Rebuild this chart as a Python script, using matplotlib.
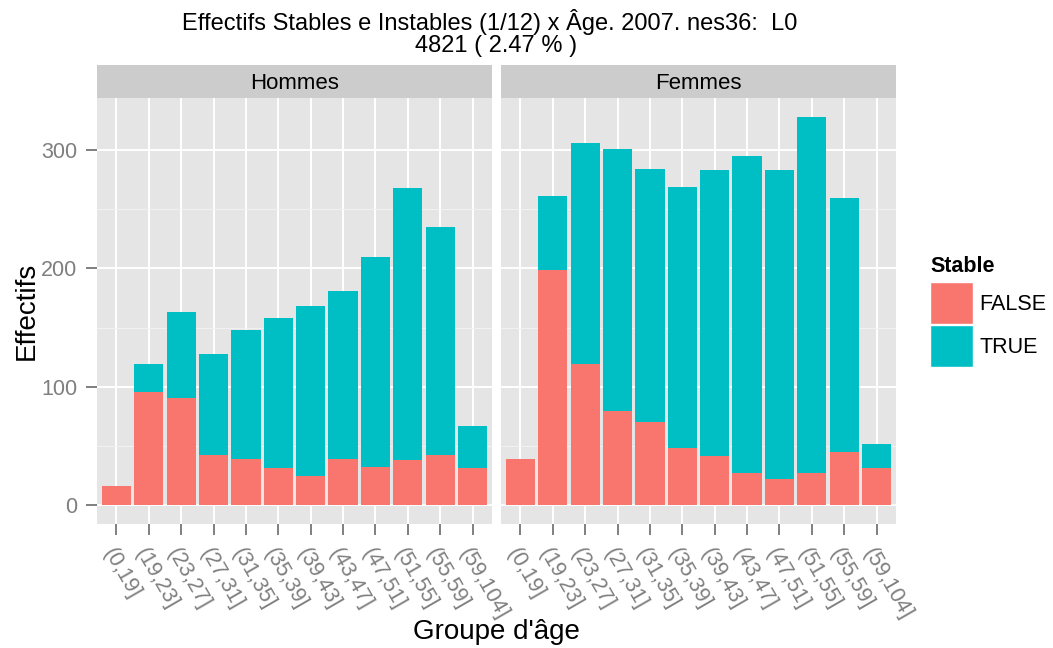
import matplotlib

matplotlib.use("Agg")
import matplotlib.pyplot as plt
from matplotlib.patches import Rectangle
import numpy as np

plt.rcParams["font.family"] = ["Liberation Sans", "DejaVu Sans"]

# age groups and counts per sex, split by stability
groups = ["(0,19]", "(19,23]", "(23,27]", "(27,31]", "(31,35]", "(35,39]",
          "(39,43]", "(43,47]", "(47,51]", "(51,55]", "(55,59]", "(59,104]"]
panels = ["Hommes", "Femmes"]
hommes_false = [16, 95, 90, 42, 39, 31, 24, 39, 32, 38, 42, 31]
hommes_true = [0, 24, 73, 86, 109, 127, 144, 142, 178, 230, 193, 36]
femmes_false = [39, 199, 119, 79, 70, 48, 41, 27, 22, 27, 45, 31]
femmes_true = [0, 62, 187, 222, 214, 221, 242, 268, 261, 301, 215, 20]
y_ticks = [0, 100, 200, 300]
legend_levels = ["FALSE", "TRUE"]

title = "Effectifs Stables e Instables (1/12) x \u00c2ge. 2007. nes36:  L0  \n4821 ( 2.47 % )"

C_FALSE = "#F8766D"
C_TRUE = "#00BFC4"
PANEL_BG = "#E5E5E5"
STRIP_BG = "#CCCCCC"
TICK_COL = "#7F7F7F"

W, H = 1053, 648
fig = plt.figure(figsize=(W / 100, H / 100), dpi=100)


def px_box(x0, y0, x1, y1):
    """Figure-fraction rect from pixel edges (top-left origin)."""
    return [x0 / W, 1 - y1 / H, (x1 - x0) / W, (y1 - y0) / H]


data = {
    "Hommes": (np.array(hommes_false), np.array(hommes_true)),
    "Femmes": (np.array(femmes_false), np.array(femmes_true)),
}
ymax = max((f + t).max() for f, t in data.values())
pad = 0.05 * ymax
x = np.arange(1, len(groups) + 1)

panel_x = {"Hommes": (97, 492), "Femmes": (501, 896)}
for i, name in enumerate(panels):
    x0, x1 = panel_x[name]
    ax = fig.add_axes(px_box(x0, 98, x1, 524))
    ax.set_facecolor(PANEL_BG)
    for s in ax.spines.values():
        s.set_visible(False)
    f, t = data[name]
    ax.bar(x, f, width=0.9, color=C_FALSE, zorder=3, linewidth=0)
    ax.bar(x, t, width=0.9, bottom=f, color=C_TRUE, zorder=3, linewidth=0)
    ax.set_xlim(0.4, len(groups) + 0.6)
    ax.set_ylim(-pad, ymax + pad)
    ax.set_yticks(y_ticks)
    ax.set_yticks([50, 150, 250], minor=True)
    ax.set_xticks(x)
    ax.grid(which="major", color="white", lw=1.4, zorder=1)
    ax.grid(which="minor", axis="y", color="#F2F2F2", lw=0.7, zorder=0)
    ax.tick_params(which="minor", length=0)
    ax.tick_params(axis="both", which="major", color=TICK_COL, width=1.4,
                   length=8, labelcolor=TICK_COL, labelsize=15.5)
    ax.tick_params(axis="y", pad=6)
    ax.set_xticklabels(groups, rotation=-60, ha="left", va="top",
                       rotation_mode="anchor")
    ax.tick_params(axis="x", pad=7)
    if i == 0:
        ax.set_ylabel("Effectifs", fontsize=20, labelpad=1)
    else:
        ax.set_yticklabels([])
        ax.tick_params(axis="y", length=0)

    # facet strip
    sx = fig.add_axes(px_box(x0, 65, x1, 98))
    sx.set_facecolor(STRIP_BG)
    sx.set_xticks([])
    sx.set_yticks([])
    for s in sx.spines.values():
        s.set_visible(False)
    sx.text(0.5, 0.45, name, ha="center", va="center", fontsize=16,
            transform=sx.transAxes)

fig.text(496 / W, 1 - 632 / H, "Groupe d'\u00e2ge", ha="center", va="center",
         fontsize=20)
fig.text(496 / W, 1 - 33 / H, title, ha="center", va="center", fontsize=17,
         linespacing=0.95)

# legend
lg = fig.add_axes(px_box(920, 245, 1053, 380))
lg.set_xlim(920, 1053)
lg.set_ylim(380, 245)
lg.axis("off")
lg.text(930, 266, "Stable", fontsize=15.5, fontweight="bold", va="center",
        ha="left")
for k, (lab, col) in enumerate(zip(legend_levels, [C_FALSE, C_TRUE])):
    top = 282 + k * 43
    lg.add_patch(Rectangle((930, top), 43, 42, facecolor=col,
                           edgecolor="white", lw=1.0))
    lg.text(979, top + 22, lab, fontsize=15.5, va="center", ha="left")

fig.savefig("out.png", dpi=100)
